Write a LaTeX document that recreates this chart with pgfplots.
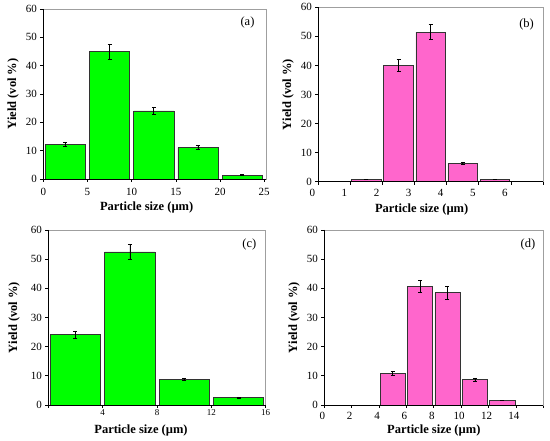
\documentclass[border=0pt]{standalone}
\usepackage{fontspec}
\setmainfont{Liberation Serif}
\usepackage{pgfplots}
\usepackage{pgfplotstable}
\pgfplotsset{compat=1.18}
\definecolor{mygreen}{RGB}{0,255,0}
\definecolor{mypink}{RGB}{255,102,204}
\tikzset{plabel/.style={font=\fontsize{12.5}{13}\selectfont}}
\newcommand{\lblfont}{\fontsize{12.5}{13}\selectfont\bfseries}
\pgfplotstableread{
x y e
2.5 12.3 0.7
7.5 44.9 2.5
12.5 24.0 1.3
17.5 11.1 0.7
22.5 1.4 0.1
}\dataA
\pgfplotstableread{
x y e
1.5 0.8 0.1
2.5 40.0 2.1
3.5 51.5 2.6
4.5 6.4 0.4
5.5 0.8 0.1
}\dataB
\pgfplotstableread{
x y e
2 24.1 1.3
6 52.5 2.7
10 8.8 0.4
14 2.6 0.2
}\dataC
\pgfplotstableread{
x y e
5 10.9 0.7
7 40.6 2.0
9 38.5 2.2
11 8.7 0.5
13 1.6 0.1
}\dataD
\pgfplotsset{
 panel/.style={
  scale only axis, anchor=south west,
  ymin=0, ymax=60, ytick={0,10,...,60},
  axis line style={gray!75, line width=0.7pt},
  tick align=outside, xtick pos=bottom, ytick pos=left,
  major tick length=3pt,
  tick style={black, line width=0.7pt},
  ticklabel style={font=\fontsize{11}{11}\selectfont},
  /pgf/number format/assume math mode=true,
  ylabel={\lblfont Yield (vol \%)},
  xlabel={\lblfont Particle size (µm)},
  every axis y label/.style={at={(rel axis cs:0,0.5)}, rotate=90, anchor=south, yshift=21pt},
  every axis x label/.style={at={(rel axis cs:0.5,0)}, anchor=north},
  ybar,
  clip=false,
 },
 bars/.style={draw=black!80, line width=0.6pt, fill=#1,
  error bars/.cd, y dir=both, y explicit,
  error bar style={black, line width=0.6pt},
  error mark options={rotate=90, mark size=2pt, black, line width=0.6pt}},
}
\begin{document}
\begin{tikzpicture}
\useasboundingbox (0pt,0pt) rectangle (550pt,441pt);
% (a)
\begin{axis}[panel, at={(43.3pt,262pt)}, width=222.7pt, height=170pt,
  xmin=0, xmax=25.2, xtick={0,5,...,25}, bar width=4.55,
  xticklabel style={yshift=-3pt},
  xlabel style={yshift=-19.5pt, xshift=-8pt}]
\addplot[bars=mygreen] table[x=x,y=y,y error=e]{\dataA};
\draw[black, line width=0.8pt] (rel axis cs:0,1) -- (rel axis cs:0,0) -- (rel axis cs:1,0);
\node[plabel] at (rel axis cs:0.917,0.92) {(a)};
\end{axis}
% (b)
\begin{axis}[panel, at={(318.3pt,259.3pt)}, width=224.7pt, height=174.4pt,
  xmin=0, xmax=7, xtick={0,...,7}, xticklabels={0,1,2,3,4,5,6,},
  xticklabel style={xshift=-6pt, yshift=-1pt}, bar width=0.92,
  xlabel style={yshift=-19pt, xshift=-9pt}]
\addplot[bars=mypink] table[x=x,y=y,y error=e]{\dataB};
\draw[black, line width=0.8pt] (rel axis cs:0,1) -- (rel axis cs:0,0) -- (rel axis cs:1,0);
\node[plabel] at (rel axis cs:0.927,0.9) {(b)};
\end{axis}
% (c)
\begin{axis}[panel, at={(48.3pt,36pt)}, width=217.4pt, height=175pt,
  xmin=0, xmax=16, xtick={0,4,...,16}, xticklabels={,4,8,12,16},
  xticklabel style={font=\fontsize{9}{9}\selectfont, yshift=2pt}, bar width=3.7,
  xlabel style={yshift=-16pt, xshift=-16pt},
  ylabel style={yshift=4pt}]
\addplot[bars=mygreen] table[x=x,y=y,y error=e]{\dataC};
\draw[black, line width=0.8pt] (rel axis cs:0,1) -- (rel axis cs:0,0) -- (rel axis cs:1,0);
\node[plabel] at (rel axis cs:0.925,0.92) {(c)};
\end{axis}
% (d)
\begin{axis}[panel, at={(324.3pt,36pt)}, width=219pt, height=175pt,
  xmin=0, xmax=16, xtick={0,2,...,16}, xticklabels={0,2,4,6,8,10,12,14,},
  xticklabel style={xshift=-2pt, yshift=-1pt},
  bar width=1.85,
  xlabel style={yshift=-16pt}]
\addplot[bars=mypink] table[x=x,y=y,y error=e]{\dataD};
\draw[black, line width=0.8pt] (rel axis cs:0,1) -- (rel axis cs:0,0) -- (rel axis cs:1,0);
\node[plabel] at (rel axis cs:0.93,0.92) {(d)};
\end{axis}
\end{tikzpicture}
\end{document}
